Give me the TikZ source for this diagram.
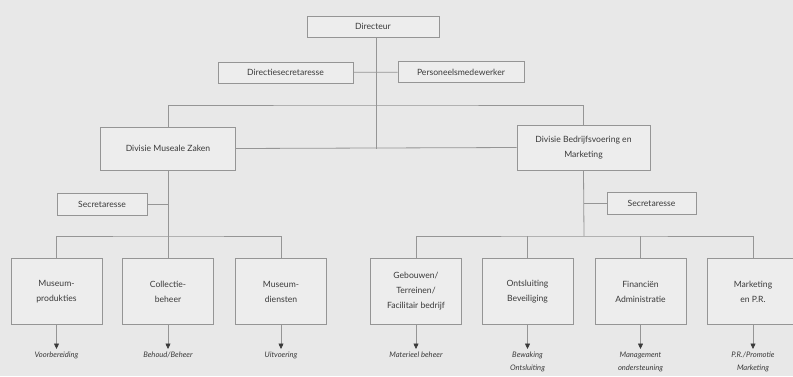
\documentclass[tikz,border=0pt]{standalone}
\usepackage{fontspec}
\setsansfont{Lato}
\usepackage{tikz}
\usetikzlibrary{arrows.meta,positioning,calc}
\usepackage{xcolor}
\definecolor{pagebg}{HTML}{E8E8E8}
\definecolor{boxbg}{HTML}{EDEDED}
\definecolor{boxline}{HTML}{959595}
\definecolor{inktext}{HTML}{3A3A3A}

\begin{document}
\begin{tikzpicture}[
  x=1pt, y=-1pt,
  font=\sffamily\fontsize{8.6}{15}\selectfont,
  text=inktext,
  >={Triangle[width=5pt,length=5.5pt,color=inktext]},
  orgbox/.style={
    draw=boxline,
    fill=boxbg,
    line width=0.8pt,
    align=center,
    inner sep=2pt
  },
  headbox/.style={
    orgbox,
    minimum height=21pt
  },
  unitbox/.style={
    orgbox,
    minimum width=91pt,
    minimum height=66pt
  },
  tasklabel/.style={
    font=\sffamily\itshape\fontsize{7.6}{13}\selectfont,
    align=center,
    anchor=north,
    inner sep=1pt
  },
  link/.style={
    draw=boxline,
    line width=0.8pt
  }
]

  % page
  \fill[pagebg] (0,0) rectangle (793,376);
  \useasboundingbox (0,0) rectangle (793,376);

  % --- Top management ---
  \node[headbox, minimum width=132pt] (dir) at (373,26.5) {Directeur};
  \node[headbox, minimum width=135pt] (dirsec) at (285.5,72.5) {Directiesecretaresse};
  \node[headbox, minimum width=126pt] (pers) at (461,72) {Personeelsmedewerker};

  % --- Divisions ---
  \node[orgbox, minimum width=135pt, minimum height=43pt] (mus) at (168,148.5) {Divisie Museale Zaken};
  \node[orgbox, minimum width=133pt, minimum height=45pt] (bed) at (583.5,147.5) {Divisie Bedrijfsvoering en\\Marketing};
  \node[orgbox, minimum width=90pt, minimum height=22pt] (secl) at (102,204) {Secretaresse};
  \node[orgbox, minimum width=89pt, minimum height=22pt] (secr) at (651.5,203) {Secretaresse};

  % --- Departments ---
  \node[unitbox] (mp) at (56.5,291.5) {Museum-\\produkties};
  \node[unitbox] (cb) at (168,291.5) {Collectie-\\beheer};
  \node[unitbox] (md) at (281,291.5) {Museum-\\diensten};
  \node[unitbox] (gb) at (416,291.5) {Gebouwen/\\Terreinen/\\Facilitair bedrijf};
  \node[unitbox] (ob) at (527.5,291.5) {Ontsluiting\\Beveiliging};
  \node[unitbox] (fa) at (640.5,291.5) {Financi\"en\\Administratie};
  \node[unitbox] (mk) at (753,291.5) {Marketing\\en P.R.};

  % --- Tasks ---
  \node[tasklabel] (vb) at (56.5,351) {Voorbereiding};
  \node[tasklabel] (bh) at (168,351) {Behoud/Beheer};
  \node[tasklabel] (ui) at (281,351) {Uitvoering};
  \node[tasklabel] (mb) at (416,351) {Materieel beheer};
  \node[tasklabel] (bo) at (527.5,351) {Bewaking\\Ontsluiting};
  \node[tasklabel] (mo) at (640.5,351) {Management\\ondersteuning};
  \node[tasklabel] (pm) at (753,351) {P.R./Promotie\\Marketing};

  % bus points
  \coordinate (topbus) at (376,105);
  \coordinate (lbus) at (168,236);
  \coordinate (rbus) at (584,236);

  % Lines between the boxes
  \draw[link] (dir.south -| topbus) -- (topbus |- mus.east);
  \draw[link] (dirsec) -- (pers);
  \draw[link] (mus.north) |- (topbus) -| (bed.north);
  \draw[link] (mus.east) -- (bed.west);
  \draw[link] (secl.east) -- (secl.east -| mus.south);
  \draw[link] (secr.west) -- (secr.west -| bed.south);
  \draw[link] (mus.south) -- (lbus);
  \draw[link] (bed.south) -- (rbus);
  \draw[link] (mp.north) |- (lbus) -| (md.north);
  \draw[link] (cb.north) -- (lbus);
  \draw[link] (gb.north) |- (rbus) -| (mk.north);
  \draw[link] (ob.north) -- (ob.north |- rbus);
  \draw[link] (fa.north) -- (fa.north |- rbus);

  % Task arrows
  \foreach \a/\b in {mp/vb, cb/bh, md/ui, gb/mb, ob/bo, fa/mo, mk/pm}
    \draw[->, draw=boxline, line width=0.6pt, shorten >=2pt] (\a.south) -- (\b.north);

\end{tikzpicture}
\end{document}
